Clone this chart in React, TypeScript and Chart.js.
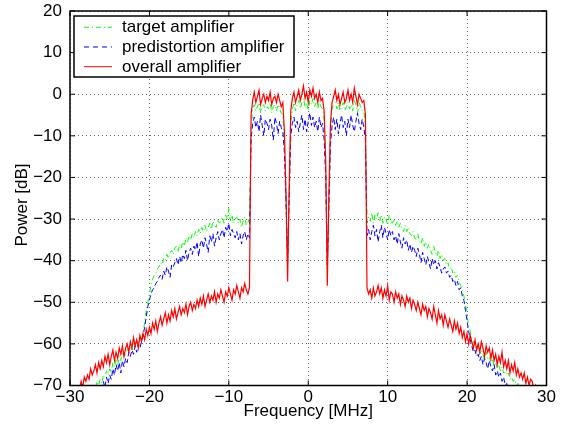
import { useEffect, useRef } from 'react';
import { Chart, registerables } from 'chart.js';

Chart.register(...registerables);

// Frequency grid of the spectra (MHz)
const FREQ_START = -29;
const FREQ_STEP = 0.2;
const X_TICKS = [-30, -20, -10, 0, 10, 20, 30];
const Y_TICKS = [-70, -60, -50, -40, -30, -20, -10, 0, 10, 20];
const SERIES_LABELS = ['target amplifier', 'predistortion amplifier', 'overall amplifier'];
const SERIES_COLORS = ['#00ff00', '#0000ff', '#ff0000'];
const X_TITLE = 'Frequency [MHz]';
const Y_TITLE = 'Power [dB]';

// each row = 10 points = 2 MHz, starting at -29 MHz
const TARGET = [
  -76, -75, -74, -74.5, -73, -73.5, -72, -72.5, -71, -71.5,
  -70.5, -71, -69, -70, -68.5, -69.5, -67.5, -68, -66.5, -67.5,
  -66, -67, -64.5, -65.5, -63.5, -65, -63, -64, -62, -63,
  -62.5, -61, -62, -60.5, -61.5, -59.5, -60.5, -59, -60, -58.5,
  -59, -57, -55, -52, -50, -48, -46, -44.5, -43.5, -43,
  -42, -41.5, -40.5, -41, -39.5, -40, -38.5, -39.5, -38, -37.5,
  -38.5, -37, -36.5, -38, -36, -37, -35.5, -36.5, -34.5, -35.5,
  -34, -35, -33.5, -34.5, -33, -34, -32.5, -33.5, -32, -33,
  -31.5, -33, -32, -31, -32.5, -30.5, -31.5, -32, -30, -31,
  -30.5, -29.5, -31, -29, -30, -27.5, -30.5, -29, -31, -30,
  -29.5, -31, -30, -32, -30.5, -29.5, -31.5, -30, -31, -8,
  -3.5, -2.5, -4, -3, -2, -4.5, -3, -2.5, -4, -3,
  -3.5, -2, -4.5, -3, -2.5, -4, -2.5, -3.5, -4.5, -5,
  -11, -25, -41, -24, -7, -3.5, -2, -4, -2.5, -1.5,
  -3.5, -2, -1, -3, -2, -4, -1.5, -2.5, -1, -3,
  -2, -3.5, -1.5, -3, -3.5, -6, -18, -42, -26, -9,
  -3.5, -2.5, -2, -3.5, -2, -4, -3, -2, -4, -3,
  -2, -3.5, -2.5, -4, -1.5, -2.5, -4.5, -2, -3, -4,
  -4, -8, -31, -29.5, -30.5, -28.5, -31, -29, -30, -28.5,
  -30.5, -29, -31, -29.5, -30, -31.5, -29, -30.5, -31, -30,
  -31.5, -30.5, -32, -31, -32.5, -33, -31.5, -33, -32, -33.5,
  -34, -33, -34.5, -35, -33.5, -35.5, -36, -34.5, -36.5, -35.5,
  -37, -36, -37.5, -38.5, -36.5, -38, -39, -37.5, -39.5, -38.5,
  -40, -39.5, -41, -40.5, -42, -41.5, -43, -42.5, -44, -43.5,
  -45, -46, -47, -48.5, -50.5, -53, -55.5, -57, -58.5, -59.5,
  -60.5, -61.5, -60, -62.5, -61.5, -62.5, -64, -62, -63.5, -63,
  -64.5, -63.5, -65.5, -64.5, -66, -65, -66.5, -65.5, -67, -66.5,
  -67.5, -67, -68.5, -68, -69, -68.5, -70, -69.5, -71, -70.5,
  -72, -71.5, -73, -72.5, -74, -73.5, -75, -74.5, -76, -75.5,
  -77,
];

const PREDISTORTION = [
  -78, -77, -76.5, -76, -75, -75.5, -74, -74.5, -73, -73.5,
  -72, -72.5, -71, -71.5, -70, -71, -69, -70.5, -68, -69.5,
  -67.5, -68.5, -66, -67.5, -65, -66.5, -64.5, -67, -64, -65.5,
  -63.5, -64.5, -62, -63, -61.5, -62.5, -60.5, -62, -60, -61,
  -59.5, -58, -56, -53.5, -51, -49.5, -48, -47, -46.5, -45.5,
  -45, -44, -43.5, -44.5, -42.5, -43.5, -41.5, -42.5, -44, -41,
  -41.5, -40.5, -39.5, -41, -39, -40.5, -38.5, -39.5, -37.5, -40,
  -38, -37, -38.5, -36.5, -37.5, -35.5, -39, -36, -35, -37,
  -34.5, -36, -38, -34, -35.5, -33.5, -36.5, -34.5, -33, -35,
  -33.5, -32.5, -34.5, -32, -33, -31, -34, -32.5, -33.5, -34.5,
  -33, -35, -33.5, -36, -34, -33, -35, -33.5, -34.5, -11,
  -7, -5.5, -8, -6.5, -9, -5, -7.5, -10, -6, -7,
  -8.5, -6, -7.5, -11, -5.5, -7, -9.5, -6.5, -8, -9,
  -14, -26, -40, -25, -10, -7, -5.5, -8, -6.5, -9,
  -7, -5, -8.5, -6, -9, -6.5, -4.5, -7.5, -5.5, -8,
  -6.5, -9, -5.5, -8, -7, -11, -20, -41, -27, -12,
  -7.5, -5.5, -8.5, -6, -9.5, -7, -5, -8, -6.5, -10,
  -6, -8, -5, -7.5, -9, -6.5, -4.5, -7, -8.5, -6,
  -8, -11, -34, -32.5, -35, -33, -31.5, -34, -32.5, -35.5,
  -33, -31.5, -34.5, -32, -33.5, -35, -32.5, -34, -33, -35,
  -34, -36, -33.5, -35.5, -37, -34.5, -36, -35, -37.5, -36,
  -38, -36.5, -37.5, -39, -37, -38.5, -40.5, -38, -39.5, -41,
  -39, -40.5, -42, -39.5, -41, -40, -42, -40.5, -41.5, -43,
  -42, -41.5, -43, -42.5, -44, -43.5, -45, -44.5, -46, -45,
  -47, -46.5, -48.5, -49.5, -52, -54.5, -57, -59, -60.5, -62,
  -61.5, -63, -62.5, -64, -63, -65, -63.5, -64.5, -66, -64,
  -65.5, -66.5, -65, -67.5, -66.5, -68, -67, -69, -68, -70,
  -69.5, -71, -70, -71.5, -72, -71.5, -73, -72.5, -74, -73.5,
  -75, -74.5, -76, -75.5, -77, -76.5, -78, -77.5, -79, -78.5,
  -80,
];

const OVERALL = [
  -72, -71, -69, -70.5, -68, -69, -67.5, -68.5, -66, -67.5,
  -66.5, -65, -67, -64.5, -66, -64, -65.5, -63, -64.5, -62.5,
  -65, -63, -61.5, -64, -62, -63.5, -61, -62.5, -60.5, -63,
  -61, -60, -62, -59.5, -61, -58.5, -60.5, -59, -61, -58,
  -59.5, -57.5, -59, -56.5, -58, -56, -57.5, -55, -56.5, -54.5,
  -57, -55, -53.5, -55.5, -54, -52.5, -55, -53, -54.5, -52,
  -53.5, -51.5, -54, -52.5, -51, -53, -51.5, -52.5, -50.5, -53,
  -51, -50, -52, -50.5, -51.5, -49.5, -51, -49, -50.5, -48.5,
  -51, -49.5, -48, -50, -48.5, -49.5, -47.5, -50, -48, -49,
  -47, -48.5, -50, -47.5, -48.5, -46.5, -48, -49.5, -47, -48,
  -46, -47.5, -49, -46.5, -47.5, -45.5, -47, -48, -46.5, -5,
  -1.5, 0.5, -2, -0.5, 1, -2.5, -1, 0, -2, -0.5,
  -1.5, 0.5, -2.5, -1, -0.5, -2, 0, -1.5, -3, -2,
  -9, -24, -45, -22, -4, -1, 0.5, -2, -0.5, 1,
  -1.5, 0, 2, -1, 0.5, -2, 1, -0.5, 1.5, -1,
  0, -2, 0.5, -1.5, -1, -4, -16, -46, -24, -7,
  -2, -0.5, 1, -1.5, 0, -2.5, -1, 0.5, -2, -1,
  1, -1.5, 0, -2, 1.5, -0.5, -2.5, 0, -1, -2,
  -1.5, -5, -46.5, -48, -47, -49, -46.5, -48.5, -47.5, -46,
  -48, -46.5, -49, -47, -48.5, -46, -49.5, -47.5, -48, -50,
  -47.5, -49, -48, -50.5, -48.5, -49.5, -51, -48.5, -50, -49,
  -51.5, -49.5, -50.5, -52, -50, -51.5, -53, -50.5, -52, -51,
  -53.5, -51.5, -52.5, -54, -51, -53, -55, -52, -54, -53,
  -55.5, -53, -54.5, -56, -54, -55.5, -57, -54.5, -56.5, -55,
  -57.5, -56, -58.5, -57, -59.5, -57.5, -60, -58, -59.5, -61,
  -59, -61.5, -60, -62, -59.5, -61, -63, -60.5, -62, -61,
  -63.5, -61.5, -64, -62.5, -65, -63, -64.5, -62, -65.5, -64,
  -66, -64, -67, -65, -66.5, -64.5, -67.5, -66, -68, -67,
  -68.5, -67, -69.5, -68, -70, -68.5, -69, -71, -70, -72,
  -73,
];

const FONT = '"Liberation Sans", Arial, Helvetica, sans-serif';
const FONT_SIZE = 17;

const toPoints = (vals: number[]) =>
  vals.map((y, i) => ({ x: Math.round((FREQ_START + i * FREQ_STEP) * 10) / 10, y }));

const fmt = (v: number) => (v < 0 ? '\u2212' + Math.abs(v) : String(v));

const framePlugin = {
  id: 'matlabFrame',
  afterDraw(chart: any) {
    const { ctx, chartArea: a, scales } = chart;
    ctx.save();
    // axes box
    ctx.strokeStyle = '#000';
    ctx.lineWidth = 1.5;
    ctx.setLineDash([]);
    ctx.strokeRect(a.left, a.top, a.right - a.left, a.bottom - a.top);
    // inward ticks
    ctx.lineWidth = 1;
    ctx.beginPath();
    X_TICKS.forEach((v) => {
      const p = scales.x.getPixelForValue(v);
      ctx.moveTo(p, a.bottom);
      ctx.lineTo(p, a.bottom - 5);
      ctx.moveTo(p, a.top);
      ctx.lineTo(p, a.top + 5);
    });
    Y_TICKS.forEach((v) => {
      const p = scales.y.getPixelForValue(v);
      ctx.moveTo(a.left, p);
      ctx.lineTo(a.left + 5, p);
      ctx.moveTo(a.right, p);
      ctx.lineTo(a.right - 5, p);
    });
    ctx.stroke();

    // legend box
    const lx = a.left + 4;
    const ly = a.top + 5;
    const lw = 220;
    const lh = 61;
    ctx.fillStyle = '#fff';
    ctx.fillRect(lx, ly, lw, lh);
    ctx.lineWidth = 1.5;
    ctx.strokeStyle = '#000';
    ctx.strokeRect(lx, ly, lw, lh);
    const dashes = [[5, 3, 1, 3], [5, 4], []];
    SERIES_LABELS.forEach((lab, i) => {
      const y = ly + 11.3 + i * 19.7;
      ctx.strokeStyle = SERIES_COLORS[i];
      ctx.lineWidth = 1;
      ctx.setLineDash(dashes[i]);
      ctx.beginPath();
      ctx.moveTo(lx + 10, y);
      ctx.lineTo(lx + 38, y);
      ctx.stroke();
      ctx.setLineDash([]);
      ctx.fillStyle = '#000';
      ctx.font = `${FONT_SIZE}px ${FONT}`;
      ctx.textAlign = 'left';
      ctx.textBaseline = 'middle';
      ctx.fillText(lab, lx + 48, y + 0.5);
    });

    // axis titles
    ctx.fillStyle = '#000';
    ctx.font = `${FONT_SIZE}px ${FONT}`;
    ctx.textAlign = 'center';
    ctx.textBaseline = 'alphabetic';
    ctx.fillText(X_TITLE, (a.left + a.right) / 2, 416);
    ctx.save();
    ctx.translate(22, 205);
    ctx.rotate(-Math.PI / 2);
    ctx.textBaseline = 'middle';
    ctx.fillText(Y_TITLE, 0, 0);
    ctx.restore();
    ctx.restore();
  },
};

export default function App() {
  const ref = useRef<HTMLCanvasElement | null>(null);

  useEffect(() => {
    if (!ref.current) return;
    const tickFont = { family: FONT, size: FONT_SIZE };
    const chart = new Chart(ref.current, {
      type: 'line',
      data: {
        datasets: [
          {
            label: SERIES_LABELS[0],
            data: toPoints(TARGET),
            borderColor: SERIES_COLORS[0],
            borderWidth: 1,
            borderDash: [5, 3, 1, 3],
            pointRadius: 0,
            fill: false,
            tension: 0,
            order: 2,
          },
          {
            label: SERIES_LABELS[1],
            data: toPoints(PREDISTORTION),
            borderColor: SERIES_COLORS[1],
            borderWidth: 1,
            borderDash: [5, 3],
            pointRadius: 0,
            fill: false,
            tension: 0,
            order: 1,
          },
          {
            label: SERIES_LABELS[2],
            data: toPoints(OVERALL),
            borderColor: SERIES_COLORS[2],
            borderWidth: 1.2,
            pointRadius: 0,
            fill: false,
            tension: 0,
            order: 0,
          },
        ],
      },
      options: {
        animation: false,
        responsive: false,
        maintainAspectRatio: false,
        events: [],
        layout: { padding: { top: 11, right: 18.5, left: 0, bottom: 0 } },
        plugins: { legend: { display: false }, tooltip: { enabled: false } },
        scales: {
          x: {
            type: 'linear',
            min: -30,
            max: 30,
            afterBuildTicks: (s: any) => {
              s.ticks = X_TICKS.map((value) => ({ value }));
            },
            afterFit: (s: any) => {
              s.height = 41.5;
              s.paddingLeft = 0;
              s.paddingRight = 0;
            },
            ticks: {
              callback: (v: any) => fmt(Number(v)),
              font: tickFont,
              color: '#000',
              padding: 2,
              maxRotation: 0,
              autoSkip: false,
            },
            grid: { color: 'rgba(0,0,0,0.6)', lineWidth: 1, drawTicks: false },
            border: { display: false, dash: [1, 3] },
          },
          y: {
            type: 'linear',
            min: -70,
            max: 20,
            afterBuildTicks: (s: any) => {
              s.ticks = Y_TICKS.map((value) => ({ value }));
            },
            afterFit: (s: any) => {
              s.width = 70;
              s.paddingTop = 0;
              s.paddingBottom = 0;
            },
            ticks: {
              callback: (v: any) => fmt(Number(v)),
              font: tickFont,
              color: '#000',
              padding: 8,
              autoSkip: false,
            },
            grid: { color: 'rgba(0,0,0,0.6)', lineWidth: 1, drawTicks: false },
            border: { display: false, dash: [1, 3] },
          },
        },
      },
      plugins: [framePlugin],
    });
    return () => chart.destroy();
  }, []);

  return (
    <div style={{ position: 'fixed', left: 0, top: 0, width: 565, height: 427, background: '#fff' }}>
      <canvas ref={ref} width={565} height={427} style={{ display: 'block' }} />
    </div>
  );
}
